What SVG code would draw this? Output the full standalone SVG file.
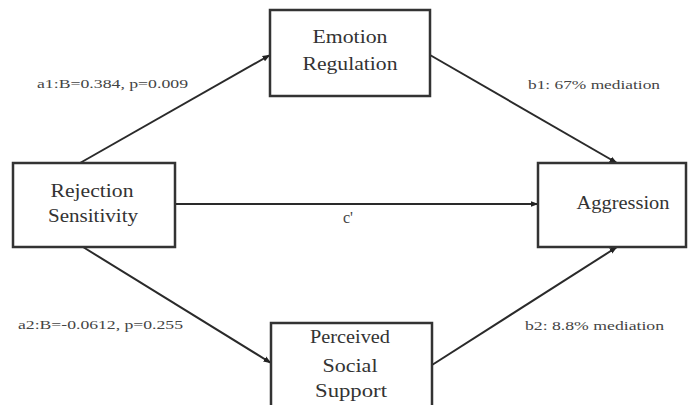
<svg xmlns="http://www.w3.org/2000/svg" width="689" height="405" viewBox="0 0 689 405">
<defs>
<marker id="ah" markerUnits="userSpaceOnUse" markerWidth="8" markerHeight="8" viewBox="0 0 8 8" refX="7.5" refY="4" orient="auto">
<path d="M0,1 L8,4 L0,7 Z" fill="#222"/>
</marker>
<style>
.box{fill:#fff;stroke:#333;stroke-width:2.5}
.nt{font-family:'Liberation Serif','DejaVu Serif',serif;font-size:18px;fill:#333;text-anchor:middle}
.lb{font-family:'Liberation Serif','DejaVu Serif',serif;font-size:13px;fill:#444}
.ed{stroke:#2a2a2a;stroke-width:2;fill:none;marker-end:url(#ah)}
</style>
</defs>
<rect width="689" height="405" fill="#fff"/>
<g id="connectors">
<line class="ed" x1="80" y1="163" x2="270" y2="55"/>
<line class="ed" x1="430" y1="55" x2="617" y2="163"/>
<line class="ed" x1="175" y1="204" x2="538" y2="204"/>
<line class="ed" x1="83" y1="247" x2="271" y2="363"/>
<line class="ed" x1="432" y1="365" x2="617" y2="247"/>
<text class="lb" x="37" y="88" textLength="151" lengthAdjust="spacingAndGlyphs">a1:B=0.384, p=0.009</text>
<text class="lb" x="528" y="89" textLength="132" lengthAdjust="spacingAndGlyphs">b1: 67% mediation</text>
<text class="lb" x="343" y="223" style="font-size:16px">c'</text>
<text class="lb" x="18" y="329" textLength="165" lengthAdjust="spacingAndGlyphs">a2:B=-0.0612, p=0.255</text>
<text class="lb" x="525" y="330" textLength="139" lengthAdjust="spacingAndGlyphs">b2: 8.8% mediation</text>
</g>
<g id="emotion-regulation">
<rect class="box" x="270" y="10" width="160" height="86"/>
<text class="nt" x="350" y="43" textLength="75" lengthAdjust="spacingAndGlyphs">Emotion</text>
<text class="nt" x="350" y="70" textLength="95" lengthAdjust="spacingAndGlyphs">Regulation</text>
</g>
<g id="rejection-sensitivity">
<rect class="box" x="13" y="163" width="162" height="84"/>
<text class="nt" x="92" y="197" textLength="83" lengthAdjust="spacingAndGlyphs">Rejection</text>
<text class="nt" x="93" y="222" textLength="90" lengthAdjust="spacingAndGlyphs">Sensitivity</text>
</g>
<g id="aggression">
<rect class="box" x="538" y="163" width="148" height="84"/>
<text class="nt" x="623" y="209" textLength="93" lengthAdjust="spacingAndGlyphs">Aggression</text>
</g>
<g id="perceived-social-support">
<rect class="box" x="271" y="323" width="161" height="90"/>
<text class="nt" x="350" y="343" textLength="80" lengthAdjust="spacingAndGlyphs">Perceived</text>
<text class="nt" x="350" y="372" textLength="55" lengthAdjust="spacingAndGlyphs">Social</text>
<text class="nt" x="351" y="397" textLength="72" lengthAdjust="spacingAndGlyphs">Support</text>
</g>
</svg>
